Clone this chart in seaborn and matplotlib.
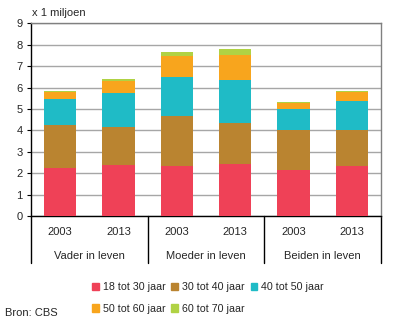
import numpy as np
import pandas as pd
import matplotlib
matplotlib.use("Agg")
import matplotlib.pyplot as plt
import seaborn as sns
from matplotlib.patches import Rectangle
from matplotlib.lines import Line2D

# ---- data ----
groups = ["Vader in leven", "Moeder in leven", "Beiden in leven"]
years = ["2003", "2013"]
series_names = ["18 tot 30 jaar", "30 tot 40 jaar", "40 tot 50 jaar",
                "50 tot 60 jaar", "60 tot 70 jaar"]
s18_30 = [2.24, 2.38, 2.33, 2.44, 2.16, 2.35]
s30_40 = [2.01, 1.77, 2.35, 1.90, 1.87, 1.68]
s40_50 = [1.21, 1.59, 1.81, 2.02, 0.97, 1.34]
s50_60 = [0.33, 0.56, 0.99, 1.16, 0.28, 0.43]
s60_70 = [0.05, 0.10, 0.18, 0.28, 0.04, 0.05]
y_ticks = list(range(0, 10))
colors = ["#EF4157", "#BA8430", "#1FBBC6", "#F8A51D", "#B0D244"]

bar_ids = [f"{g} {y}" for g in groups for y in years]
df = pd.DataFrame({"bar": bar_ids,
                   "year": [y for g in groups for y in years]})
series = [s18_30, s30_40, s40_50, s50_60, s60_70]
cum = np.cumsum(np.array(series), axis=0)
for i, name in enumerate(series_names):
    df[name] = cum[i]

sns.set_style("white")
plt.rcParams["font.family"] = ["Liberation Sans", "DejaVu Sans"]
FS = 8

fig = plt.figure(figsize=(3.96, 3.24), dpi=100)
ax = fig.add_axes([31/396, 1 - 216/324, 350/396, (216 - 23.3)/324])

# draw cumulative layers, tallest first
for i in reversed(range(len(series_names))):
    sns.barplot(data=df, x="bar", y=series_names[i], order=bar_ids,
                color=colors[i], width=0.55, saturation=1, ax=ax,
                linewidth=0, zorder=3)

ax.set_xlim(-0.5, 5.5)
ax.set_ylim(0, 9)
ax.set_yticks(y_ticks)
ax.set_yticklabels([str(t) for t in y_ticks], fontsize=FS)
ax.set_xlabel("")
ax.set_ylabel("")
ax.set_xticks([])
ax.yaxis.grid(True, color="#A6A6A6", linewidth=1, zorder=0)
ax.set_axisbelow(True)
ax.tick_params(axis="y", length=3, width=0.8, color="black", pad=3, left=True)

for side in ["top", "right"]:
    ax.spines[side].set_visible(True)
    ax.spines[side].set_color("#808080")
    ax.spines[side].set_linewidth(1)
ax.spines["left"].set_color("black")
ax.spines["bottom"].set_color("black")
ax.spines["left"].set_linewidth(1)
ax.spines["bottom"].set_linewidth(1)

ah = 216 - 23.3
trans = ax.get_xaxis_transform()
# year labels
for i, yr in enumerate(df["year"]):
    ax.text(i, -16/ah, yr, transform=trans, ha="center", va="center", fontsize=FS)
# group labels
for j, g in enumerate(groups):
    ax.text(2*j + 0.5, -40/ah, g, transform=trans, ha="center", va="center", fontsize=FS)
# separators
for xs in [-0.5, 1.5, 3.5, 5.5]:
    ax.add_line(Line2D([xs, xs], [0, -47/ah], transform=trans, color="black",
                       linewidth=1, clip_on=False))

fig.text(32/396, 1 - 13/324, "x 1 miljoen", fontsize=FS, ha="left", va="center")
fig.text(5/396, 1 - 313/324, "Bron: CBS", fontsize=FS, ha="left", va="center")

# legend (row-major order for ncol=3)
order = [0, 3, 1, 4, 2]
handles = [Rectangle((0, 0), 1, 1, color=colors[k]) for k in order]
labels = [series_names[k] for k in order]
leg = fig.legend(handles, labels, loc="upper left",
                 bbox_to_anchor=(92/396, 1 - 282/324), ncol=3, frameon=False,
                 fontsize=7.7, handlelength=0.65, handleheight=0.65,
                 handletextpad=0.35, columnspacing=0.55, labelspacing=1.1,
                 borderaxespad=0, borderpad=0)

fig.savefig("out.png", dpi=100)
